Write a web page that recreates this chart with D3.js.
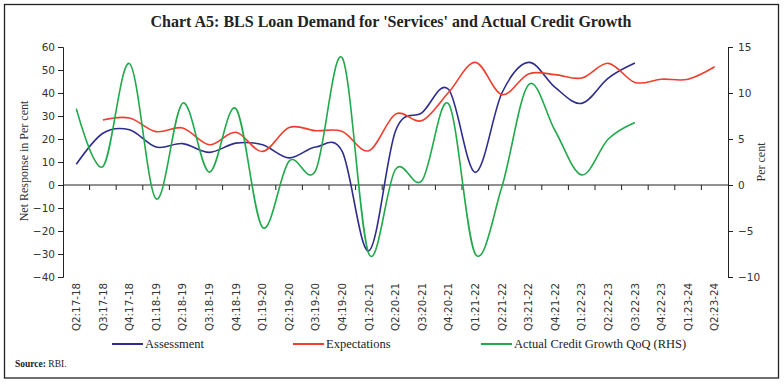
<!DOCTYPE html>
<html>
<head>
<meta charset="utf-8">
<script src="https://cdn.jsdelivr.net/npm/d3@7"></script>
<style>
  body { margin: 0; background: #fff; }
</style>
</head>
<body>
<div id="chart"></div>
<script>
// Quarters on the x axis
const categories = [
    "Q2:17-18", "Q3:17-18", "Q4:17-18", "Q1:18-19", "Q2:18-19", "Q3:18-19", "Q4:18-19",
    "Q1:19-20", "Q2:19-20", "Q3:19-20", "Q4:19-20", "Q1:20-21", "Q2:20-21", "Q3:20-21",
    "Q4:20-21", "Q1:21-22", "Q2:21-22", "Q3:21-22", "Q4:21-22", "Q1:22-23", "Q2:22-23",
    "Q3:22-23", "Q4:22-23", "Q1:23-24", "Q2:23-24"
];

// Net response (left axis)
const assessment = [9, 22.5, 24, 16.5, 18, 14.2, 18.2, 17.5, 11.8, 16.5, 14.5, -28.6, 23.5, 31.5,
    41.5, 5.5, 40, 53.3, 42.4, 35.5, 46.5, 53, null, null, null];
const expectations = [null, 28.3, 29.1, 23.2, 24.8, 17.5, 22.9, 14.6, 25, 23.6, 23.3, 14.9, 30.8, 28,
    40.3, 53.3, 39.3, 48.3, 48, 46.5, 52.9, 44.6, 46, 46, 51.4];
// Actual credit growth QoQ (right axis)
const creditGrowth = [8.3, 2.0, 13.2, -1.5, 8.9, 1.4, 8.3, -4.6, 2.6, 1.6, 13.8, -7.5, 1.7, 0.5,
    8.8, -7.5, -0.2, 10.9, 5.9, 1.1, 5.0, 6.8, null, null, null];

const leftTicks = [-40, -30, -20, -10, 0, 10, 20, 30, 40, 50, 60];
const rightTicks = [-10, -5, 0, 5, 10, 15];

const width = 784, height = 385;
const plot = { left: 63, right: 728, top: 47, bottom: 277 };

const svg = d3.select("#chart").append("svg")
    .attr("width", width)
    .attr("height", height);

// outer frame
svg.append("rect")
    .attr("x", 4.5).attr("y", 4.5)
    .attr("width", 774).attr("height", 373.5)
    .attr("fill", "none")
    .attr("stroke", "#222")
    .attr("stroke-width", 1.3);

svg.append("text")
    .attr("x", 391).attr("y", 27)
    .attr("text-anchor", "middle")
    .style("font-family", "Liberation Serif")
    .style("font-weight", "bold")
    .style("font-size", "16px")
    .style("fill", "#222")
    .text("Chart A5: BLS Loan Demand for 'Services' and Actual Credit Growth");

const x = d3.scaleBand().domain(categories).range([plot.left, plot.right]);
const cx = d => x(d) + x.bandwidth() / 2;
const yL = d3.scaleLinear().domain([-40, 60]).range([plot.bottom, plot.top]);
const yR = d3.scaleLinear().domain([-10, 15]).range([plot.bottom, plot.top]);

const tickFont = g => g.selectAll("text")
    .style("font-family", "DejaVu Sans")
    .style("font-size", "10.5px")
    .style("fill", "#333");

// left axis
svg.append("g")
    .attr("transform", `translate(${plot.left},0)`)
    .call(d3.axisLeft(yL).tickValues(leftTicks).tickSize(5).tickSizeOuter(5).tickPadding(3))
    .call(g => g.select(".domain").attr("stroke", "#222"))
    .call(g => g.selectAll(".tick line").attr("stroke", "#222"))
    .call(tickFont);

// right axis
svg.append("g")
    .attr("transform", `translate(${plot.right},0)`)
    .call(d3.axisRight(yR).tickValues(rightTicks).tickSize(5).tickSizeOuter(5).tickPadding(5))
    .call(g => g.select(".domain").attr("stroke", "#222"))
    .call(g => g.selectAll(".tick line").attr("stroke", "#222"))
    .call(tickFont);

// category axis along zero
const zeroY = yL(0);
svg.append("line")
    .attr("x1", plot.left).attr("x2", plot.right)
    .attr("y1", zeroY).attr("y2", zeroY)
    .attr("stroke", "#222");

svg.append("g").selectAll("line")
    .data(categories.slice(1))
    .join("line")
    .attr("x1", d => x(d)).attr("x2", d => x(d))
    .attr("y1", zeroY).attr("y2", zeroY + 5)
    .attr("stroke", "#222");

svg.append("g").selectAll("text")
    .data(categories)
    .join("text")
    .attr("transform", d => `translate(${cx(d)},283) rotate(-90)`)
    .attr("text-anchor", "end")
    .attr("dy", "0.35em")
    .style("font-family", "DejaVu Sans")
    .style("font-size", "10.3px")
    .style("fill", "#333")
    .text(d => d);

// axis titles
svg.append("text")
    .attr("transform", `translate(28,161) rotate(-90)`)
    .attr("text-anchor", "middle")
    .style("font-family", "Liberation Serif")
    .style("font-size", "12px")
    .style("fill", "#333")
    .text("Net Response in Per cent");

svg.append("text")
    .attr("transform", `translate(765,162) rotate(-90)`)
    .attr("text-anchor", "middle")
    .style("font-family", "Liberation Serif")
    .style("font-size", "12px")
    .style("fill", "#333")
    .text("Per cent");

// series
const series = [
    { name: "Assessment", values: assessment, scale: yL, color: "#2e2d8c" },
    { name: "Expectations", values: expectations, scale: yL, color: "#f03e2e" },
    { name: "Actual Credit Growth QoQ (RHS)", values: creditGrowth, scale: yR, color: "#21a94b" }
];

series.forEach(s => {
    const pts = categories.map((c, i) => ({ c, v: s.values[i] })).filter(p => p.v != null);
    const line = d3.line()
        .x(p => cx(p.c))
        .y(p => s.scale(p.v))
        .curve(d3.curveCardinal.tension(0));
    svg.append("path")
        .datum(pts)
        .attr("d", line)
        .attr("fill", "none")
        .attr("stroke", s.color)
        .attr("stroke-width", 1.6);
});

// legend
const legendX = [112, 293, 481];
const legend = svg.append("g").selectAll("g")
    .data(series)
    .join("g")
    .attr("transform", (d, i) => `translate(${legendX[i]},344)`);

legend.append("line")
    .attr("x1", 0).attr("x2", 31)
    .attr("stroke", d => d.color)
    .attr("stroke-width", 2);

legend.append("text")
    .attr("x", 33)
    .attr("dy", "0.35em")
    .style("font-family", "Liberation Serif")
    .style("font-size", "12.5px")
    .style("fill", "#222")
    .text(d => d.name);

// source note
const src = svg.append("text")
    .attr("x", 15).attr("y", 367)
    .style("font-family", "Liberation Serif")
    .style("font-size", "9.5px")
    .style("fill", "#222");
src.append("tspan").style("font-weight", "bold").text("Source:");
src.append("tspan").text(" RBI.");
</script>
</body>
</html>
